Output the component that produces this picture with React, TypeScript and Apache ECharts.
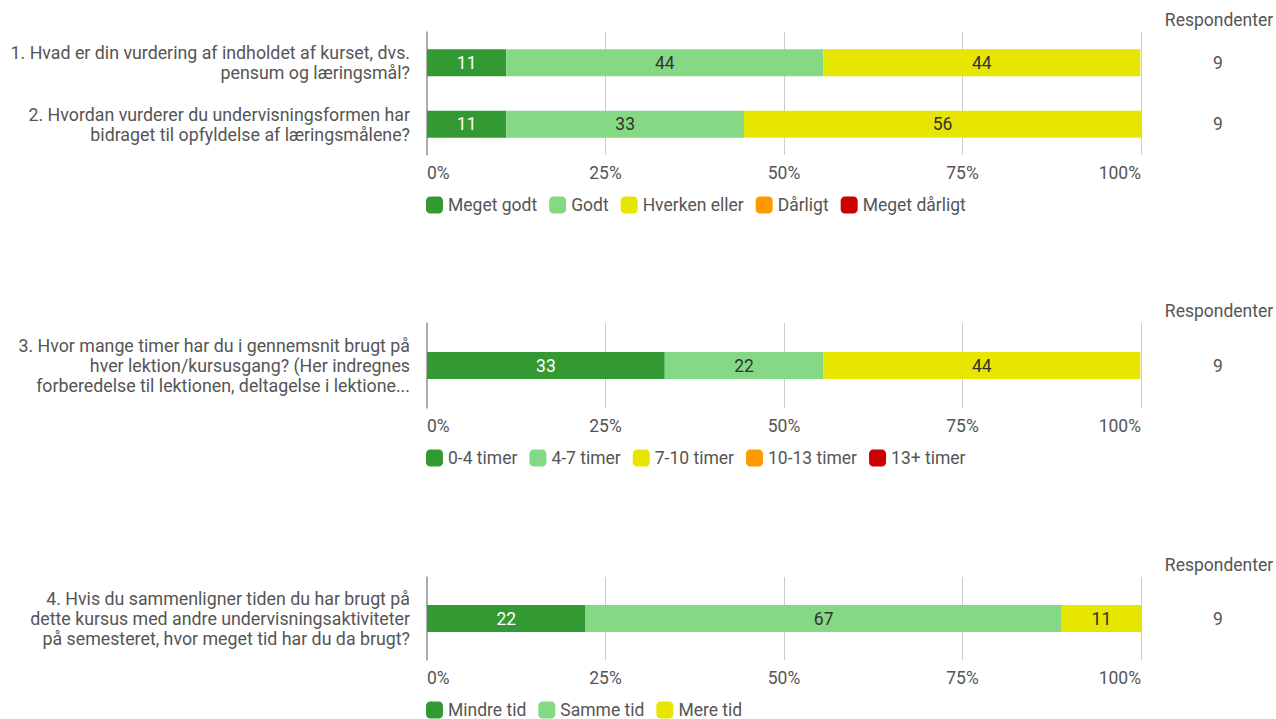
import React, { useEffect, useRef } from "react";
import * as echarts from "echarts";

const tickValues = [0, 25, 50, 75, 100];

const q1Categories = [
  "1. Hvad er din vurdering af indholdet af kurset, dvs.\npensum og læringsmål?",
  "2. Hvordan vurderer du undervisningsformen har\nbidraget til opfyldelse af læringsmålene?",
];
const q1Respondents = [9, 9];
const q1Names = ["Meget godt", "Godt", "Hverken eller", "Dårligt", "Meget dårligt"];
const q1MegetGodt = [11.1, 11.1];
const q1Godt = [44.4, 33.3];
const q1Hverken = [44.4, 55.6];
const q1Daarligt = [0, 0];
const q1MegetDaarligt = [0, 0];

const q3Categories = [
  "3. Hvor mange timer har du i gennemsnit brugt på\nhver lektion/kursusgang? (Her indregnes\nforberedelse til lektionen, deltagelse i lektione...",
];
const q3Respondents = [9];
const q3Names = ["0-4 timer", "4-7 timer", "7-10 timer", "10-13 timer", "13+ timer"];
const q3T0 = [33.3];
const q3T4 = [22.2];
const q3T7 = [44.4];
const q3T10 = [0];
const q3T13 = [0];

const q4Categories = [
  "4. Hvis du sammenligner tiden du har brugt på\ndette kursus med andre undervisningsaktiviteter\npå semesteret, hvor meget tid har du da brugt?",
];
const q4Respondents = [9];
const q4Names = ["Mindre tid", "Samme tid", "Mere tid"];
const q4Mindre = [22.2];
const q4Samme = [66.7];
const q4Mere = [11.1];

const palette = ["#339933", "#85d985", "#e6e600", "#ff9900", "#cc0000"];
const labelColors = ["#ffffff", "#333333", "#333333", "#333333", "#ffffff"];

const FONT = "Roboto";
const TXT = "#555555";
const FS = 17.5;

const grids = [
  { top: 32, height: 123 },
  { top: 323, height: 85 },
  { top: 577, height: 83 },
];

export default function App() {
  const ref = useRef<HTMLDivElement>(null);
  useEffect(() => {
    if (!ref.current) return;
    const chart = echarts.init(ref.current, undefined, { renderer: "svg" });

    const groups = [
      { cats: q1Categories, resp: q1Respondents, names: q1Names, data: [q1MegetGodt, q1Godt, q1Hverken, q1Daarligt, q1MegetDaarligt] },
      { cats: q3Categories, resp: q3Respondents, names: q3Names, data: [q3T0, q3T4, q3T7, q3T10, q3T13] },
      { cats: q4Categories, resp: q4Respondents, names: q4Names, data: [q4Mindre, q4Samme, q4Mere] },
    ];

    const grid: any[] = [];
    const xAxis: any[] = [];
    const yAxis: any[] = [];
    const series: any[] = [];
    const legend: any[] = [];
    const graphic: any[] = [];

    groups.forEach((g, gi) => {
      const gp = grids[gi];
      grid.push({ left: 427, right: 135, top: gp.top, height: gp.height, containLabel: false });
      xAxis.push({
        type: "value",
        gridIndex: gi,
        min: 0,
        max: 100,
        interval: 25,
        axisLine: { show: false },
        axisTick: { show: false },
        splitLine: { show: true, lineStyle: { color: "#cccccc", width: 1 } },
        axisLabel: {
          formatter: (v: number) => (tickValues.includes(v) ? v + "%" : ""),
          color: TXT,
          fontSize: FS,
          fontFamily: FONT,
          margin: 9,
          alignMinLabel: "left",
          alignMaxLabel: "right",
        },
      });
      yAxis.push({
        type: "category",
        gridIndex: gi,
        inverse: true,
        data: g.cats,
        axisLine: { show: true, lineStyle: { color: "#999999", width: 1.5 } },
        axisTick: { show: false },
        axisLabel: {
          color: TXT,
          fontSize: 17.8,
          fontFamily: FONT,
          lineHeight: 20,
          align: "right",
          margin: 17,
        },
      });
      yAxis.push({
        type: "category",
        gridIndex: gi,
        inverse: true,
        position: "right",
        data: g.resp.map(String),
        axisLine: { show: false },
        axisTick: { show: false },
        axisLabel: {
          color: TXT,
          fontSize: FS,
          fontFamily: FONT,
          align: "center",
          margin: 77,
        },
      });
      g.names.forEach((name, si) => {
        series.push({
          type: "bar",
          name,
          stack: "s" + gi,
          xAxisIndex: gi,
          yAxisIndex: gi * 2,
          barWidth: 27,
          itemStyle: { color: palette[si] },
          label: {
            show: true,
            position: "inside",
            fontSize: FS,
            fontFamily: FONT,
            color: labelColors[si],
            formatter: (p: any) => (p.value > 0 ? String(Math.round(p.value)) : ""),
          },
          data: g.data[si],
        });
      });
      legend.push({
        data: g.names,
        left: 426,
        top: gp.top + gp.height + 41,
        padding: 0,
        icon: "roundRect",
        itemWidth: 17,
        itemHeight: 17,
        itemGap: 12,
        textStyle: { color: TXT, fontSize: FS, fontFamily: FONT },
        selectedMode: false,
      });
      graphic.push({
        type: "text",
        x: 1219,
        y: gp.top - 12,
        style: {
          text: "Respondenter",
          align: "center",
          verticalAlign: "middle",
          fill: TXT,
          font: `${FS}px ${FONT}`,
        },
      });
    });

    chart.setOption({
      animation: false,
      backgroundColor: "#ffffff",
      textStyle: { fontFamily: FONT },
      grid,
      xAxis,
      yAxis,
      series,
      legend,
      graphic,
    });
    return () => chart.dispose();
  }, []);
  return (
    <div
      ref={ref}
      style={{ position: "fixed", left: 0, top: 0, width: 1276, height: 719 }}
    />
  );
}
